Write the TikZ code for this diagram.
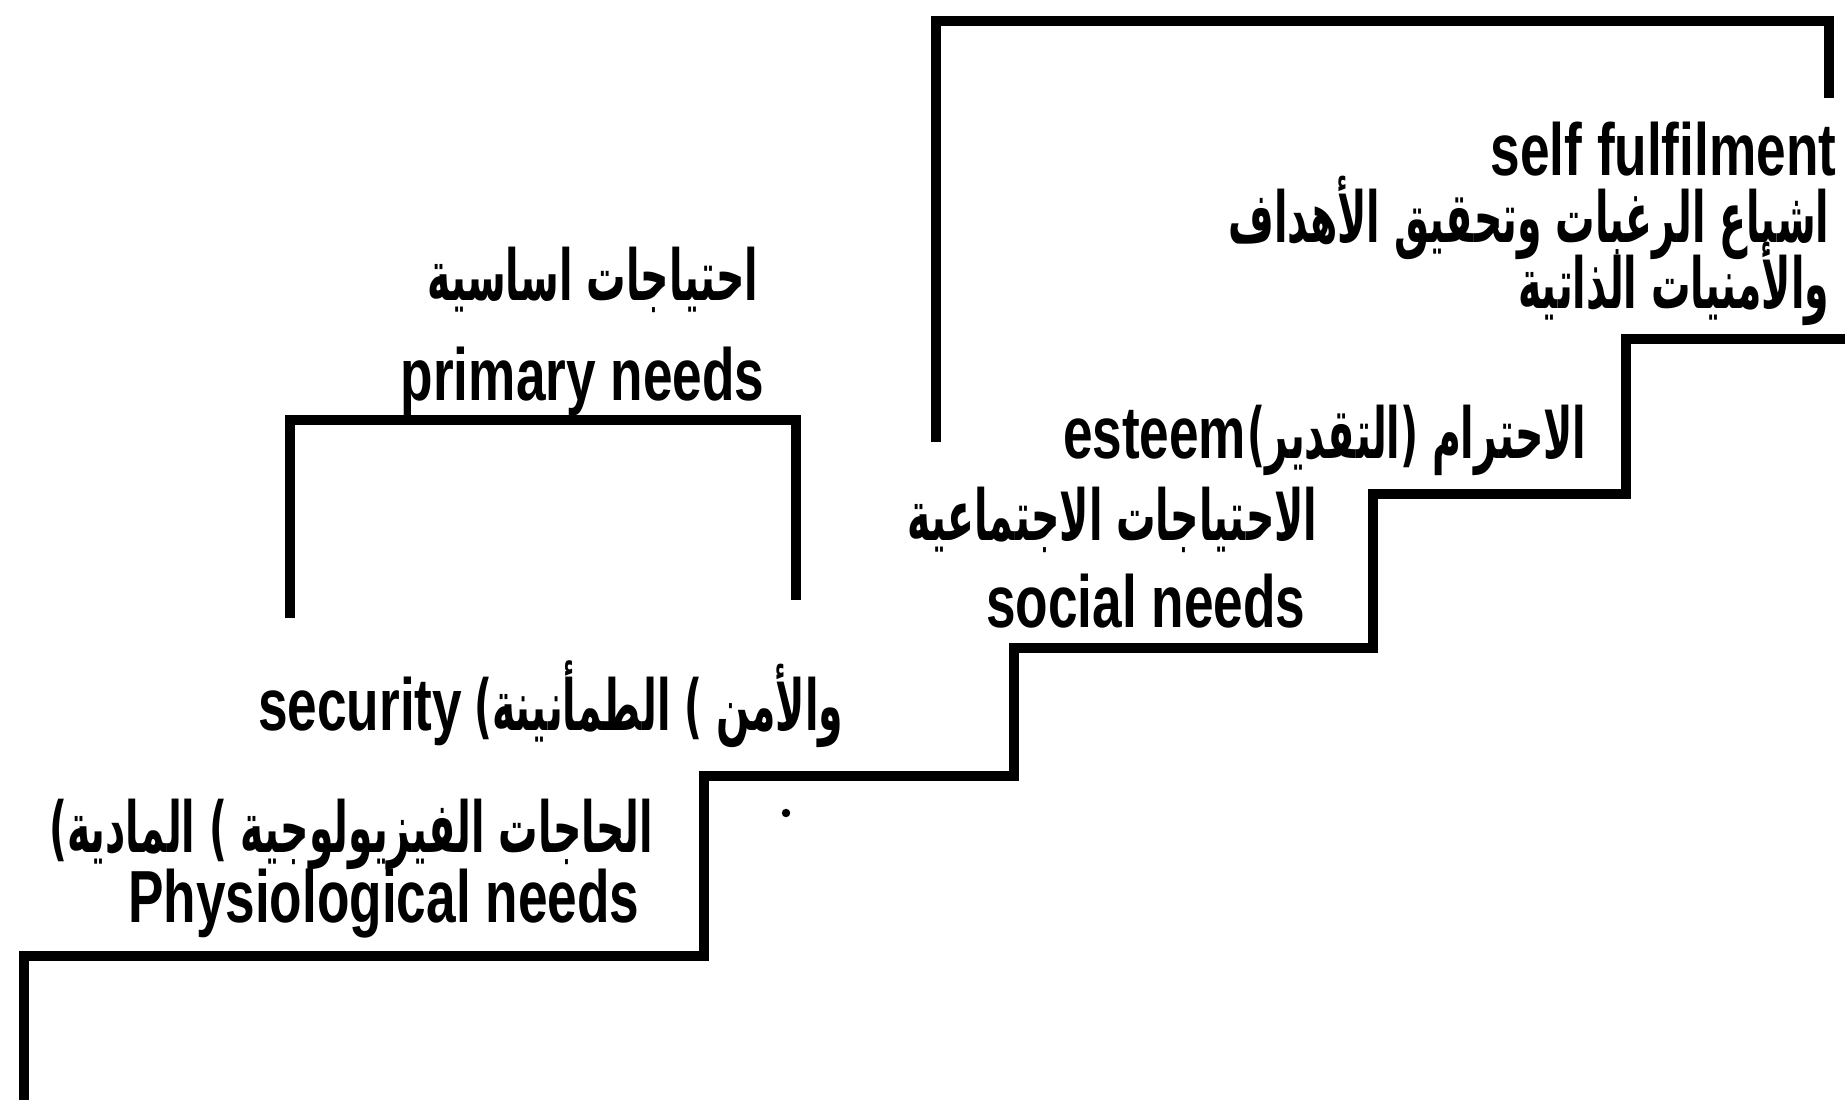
\documentclass[tikz,border=0pt]{standalone}
\usepackage{fontspec}
\setmainfont{Liberation Sans}
\newfontfamily\enfont[FakeStretch=0.72]{Liberation Sans}
\newfontfamily\arabicfont[Script=Arabic,FakeStretch=0.56]{DejaVu Sans}
\TeXXeTstate=1
\usetikzlibrary{positioning}
\tikzset{
  gradino/.style={line width=2.85pt, line join=miter},
  testo/.style={font=\enfont\bfseries\fontsize{21}{21}\selectfont, inner sep=0pt},
  arabo/.style={font=\arabicfont\bfseries\fontsize{20}{20}\selectfont, inner sep=0pt},
}

\begin{document}
\begin{tikzpicture}[x=0.01cm, y=-0.01cm]
    \useasboundingbox (0,0) rectangle (1848,1100);
    % Scala dei bisogni
    \draw[gradino] (24,1100) -- (24,956) -- (704,956) -- (704,776) -- (1014,776) -- (1014,648)
        -- (1373,648) -- (1373,494) -- (1626,494) -- (1626,339) -- (1845,339);
    % Riquadri
    \draw[gradino] (290,618) -- (290,420) -- (796,420) -- (796,600);
    \draw[gradino] (936,442) -- (936,21) -- (1829,21) -- (1829,98);
    \fill (786,813) circle (1.2pt);
    % Gradino 5
    \node[testo, anchor=base east] (selfEn) at (1837,175) {self fulfilment};
    \node[arabo, anchor=base east] (selfAr1) at (1830,242) {\beginR اشباع الرغبات وتحقيق الأهداف\endR};
    \node[arabo, anchor=base east] (selfAr2) at (1830,308) {\beginR والأمنيات الذاتية\endR};
    % Gradino 4
    \node[arabo, anchor=base east] (stimaAr) at (1587,458) {\beginR الاحترام (التقدير)\endR};
    \node[testo, base left=0pt of stimaAr] (stimaEn) {esteem};
    % Gradino 3
    \node[arabo, anchor=base east] (socAr) at (1318,540) {\beginR الاحتياجات الاجتماعية\endR};
    \node[testo, anchor=base east] (socEn) at (1306,627) {social needs};
    % Gradino 2 (parentesi isolata: XeTeX non la specchia)
    \node[arabo, anchor=base east] (sicAr) at (844,730) {\beginR والأمن ) الطمأنينة)\endR};
    \node[testo, base left=3pt of sicAr] (sicEn) {security};
    % Gradino 1
    \node[arabo, anchor=base east] (fisAr) at (654,852) {\beginR الحاجات الفيزيولوجية ) المادية)\endR};
    \node[testo, anchor=base east] (fisEn) at (640,922) {Physiological needs};
    % Bisogni primari
    \node[arabo, anchor=base east] (primAr) at (759,300) {\beginR احتياجات اساسية\endR};
    \node[testo, anchor=base east] (primEn) at (765,400) {primary needs};
\end{tikzpicture}
\end{document}
